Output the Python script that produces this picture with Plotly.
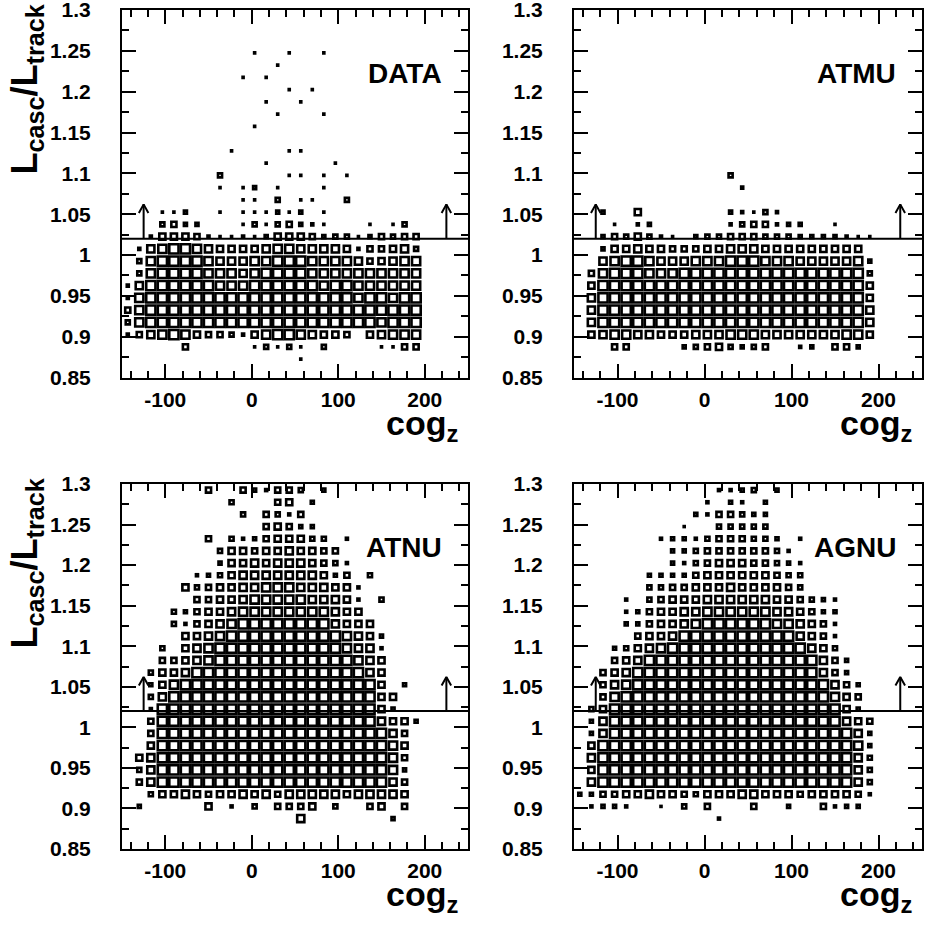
import plotly.graph_objects as go

# ---------------- data ----------------
X_MIN, X_MAX, NX = -150.0, 250.0, 30
Y_MIN, Y_MAX, NY = 0.85, 1.30, 30
CUT_Y = 1.02
ARROW_X = [-125.0, 225.0]
ARROW_TOP = 1.062

PANEL_NAMES = ["DATA", "ATMU", "ATNU", "AGNU"]

# Relative bin content (0-9) per cell, rows from top (y bin 29) to bottom (y bin 0),
# 30 x-bins per row (spaces only group the columns by 5).
DATA_ROWS = [
    "..... ..... ..... ..... ..... .....",
    "..... ..... ..... ..... ..... .....",
    "..... ..... ..... ..... ..... .....",
    "..... ..... .1..1 ..1.. ..... .....",
    "..... ..... ...1. ..... ..... .....",
    "..... ..... 1.1.. ..... ..... .....",
    "..... ..... ....1 .1... ..... .....",
    "..... ..... ..1.. 1.... ..... .....",
    "..... ..... ...1. ..1.. ..... .....",
    "..... ..... .1... ..... ..... .....",
    "..... ..... ..... ..... ..... .....",
    "..... ....1 ....1 1.... ..... .....",
    "..... ..... ..1.. ...1. ..... .....",
    "..... ...4. ....1 1.1.1 ..... .....",
    "..... ...1. 13.1. ..1.. ..... .....",
    "..... ..... 11.4. 11..4 ..... .....",
    "...11 3..1. 11131 3.1.. ..... .....",
    "...45 33... 14145 321.. .1.14 .....",
    "..266 65211 21366 65344 13545 5....",
    ".2789 98766 66788 77776 25567 4....",
    ".4899 99877 78899 98888 75678 8....",
    ".4899 99888 78999 98888 88888 8....",
    "27999 99988 89999 99899 88888 8....",
    "28999 99999 99999 99999 89989 9....",
    "58999 99999 99999 99999 99999 9....",
    "48999 99999 99999 99999 99899 9....",
    "25789 86554 26899 87665 .6788 8....",
    "..... 5.... .1414 1.4.. ..115 5....",
    "..... ..... ..... 1.... ..... .....",
    "..... ..... ..... ..... ..... .....",
]

ATMU_ROWS = [
    "..... ..... ..... ..... ..... .....",
    "..... ..... ..... ..... ..... .....",
    "..... ..... ..... ..... ..... .....",
    "..... ..... ..... ..... ..... .....",
    "..... ..... ..... ..... ..... .....",
    "..... ..... ..... ..... ..... .....",
    "..... ..... ..... ..... ..... .....",
    "..... ..... ..... ..... ..... .....",
    "..... ..... ..... ..... ..... .....",
    "..... ..... ..... ..... ..... .....",
    "..... ..... ..... ..... ..... .....",
    "..... ..... ..... ..... ..... .....",
    "..... ..... ..... ..... ..... .....",
    "..... ..... ...4. ..... ..... .....",
    "..... ..... ....2 ..... ..... .....",
    "..... ..... ..... ..... ..... .....",
    "..3.. 6.... ...32 142.. ..... .....",
    "...1. 23... ...24 55233 ..1.. .....",
    "..354 6421. 34455 54443 33321 1....",
    "..366 76655 56677 76666 66666 .....",
    "..789 98777 88899 98887 77778 3....",
    ".5899 98889 99999 99999 99999 4....",
    ".6999 99999 99999 99999 99999 6....",
    ".7999 99999 99999 99999 99999 6....",
    ".7999 99999 99999 99999 99999 7....",
    ".7999 99999 99999 99999 99999 7....",
    ".6788 77666 77788 87777 77788 6....",
    "...55 ....3 45643 45..2 3.553 .....",
    "..... ..... ..... ..... ..... .....",
    "..... ..... ..... ..... ..... .....",
]

ATNU_ROWS = [
    "..... ..5.. 53255 4.3.. ..... .....",
    "..... ....4 ...56 .3... ..... .....",
    "..... ..... 4.542 5.... ..... .....",
    "..... ..... ..565 33... ..... .....",
    "..... ..5.4 23566 644.2 ..... .....",
    "..... ...46 65667 6655. ..... .....",
    "..... ...36 67677 76542 ..... .....",
    "..... .2346 77777 77635 .4... .....",
    "..... 64566 77888 77766 2.... .....",
    "..... .5566 78888 87776 2.4.. .....",
    "....4 35667 88888 88876 6.... .....",
    "....4 25678 99999 99976 66... .....",
    "..... 66789 99999 99998 763.. .....",
    "...4. 67899 99999 99998 772.. .....",
    "...55 67899 99999 99999 876.. .....",
    "..466 79999 99999 99999 976.. .....",
    "..368 99999 99999 99999 996.3 .....",
    "..479 99999 99999 99999 9966. .....",
    "..299 99999 99999 99999 9963. .....",
    "..599 99999 99999 99999 99766 3....",
    "..599 99999 99999 99999 99975 .....",
    "..699 99999 99999 99999 99986 .....",
    ".6799 99999 99999 99999 99985 .....",
    ".4799 99999 99999 99999 99983 .....",
    ".5799 99999 99999 99999 99975 .....",
    "..466 76566 76757 77776 77776 .....",
    ".3... ..6.2 .4.55 56.4. .56.5 .....",
    "..... ..... ..... 7.... ...3. .....",
    "..... ..... ..... ..... ..... .....",
    "..... ..... ..... ..... ..... .....",
]

AGNU_ROWS = [
    "..... ..... ..223 4.3.. ..... .....",
    "..... ..... .2.32 .3... ..... .....",
    "..... ..... 32554 33... ..... .....",
    "..... ....1 ..444 44... ..... .....",
    "..... ..233 24555 443.2 ..... .....",
    "..... ...33 45555 5542. ..... .....",
    "..... ...32 45666 55432 ..... .....",
    "..... .3333 56666 66544 ..... .....",
    "..... .4455 66676 66654 ..... .....",
    "....2 .4566 67777 77665 432.. .....",
    "....2 35667 78888 88776 533.. .....",
    "....3 35667 89999 99887 652.. .....",
    "..... 56679 99999 99997 652.. .....",
    "...34 67899 99999 99999 764.. .....",
    "...56 79999 99999 99999 9753. .....",
    "..567 99999 99999 99999 9753. .....",
    "..578 99999 99999 99999 99753 .....",
    "..589 99999 99999 99999 99865 .....",
    ".4699 99999 99999 99999 99963 .....",
    ".3799 99999 99999 99999 99976 5....",
    ".3799 99999 99999 99999 99997 3....",
    ".6999 99999 99999 99999 99998 3....",
    ".7999 99999 99999 99999 99997 4....",
    ".6999 99999 99999 99999 99997 4....",
    ".7999 99999 99999 99999 99997 4....",
    "33556 67665 46667 76665 66665 2....",
    ".2332 ..1.4 .5... 5..3. .5233 .....",
    "..... ..... ..2.. ..... ..... .....",
    "..... ..... ..... ..... ..... .....",
    "..... ..... ..... ..... ..... .....",
]

PANEL_ROWS = [DATA_ROWS, ATMU_ROWS, ATNU_ROWS, AGNU_ROWS]
LEVEL_MAX = 9

X_TICKS = [-100, 0, 100, 200]
X_TICK_TEXT = ["-100", "0", "100", "200"]
Y_TICKS = [0.85, 0.90, 0.95, 1.00, 1.05, 1.10, 1.15, 1.20, 1.25, 1.30]
Y_TICK_TEXT = ["0.85", "0.9", "0.95", "1", "1.05", "1.1", "1.15", "1.2", "1.25", "1.3"]

X_TITLE = "cog<sub>z</sub>"
Y_TITLE = "L<sub>casc</sub>/L<sub>track</sub>"

# ---------------- styling / layout ----------------
W = H = 926
FONT = "Liberation Sans, Arial, Helvetica, sans-serif"
BOX_MAX_PX = 9.2
BOX_LW = 2.6

# panel frames in pixels: (left, right, top, bottom)
FRAMES = [(122, 468, 10, 377.5), (574, 922, 10, 377.5),
          (122, 468, 484, 849), (574, 922, 484, 849)]
YTITLE_TOP = [4, 0, 478, 0]


def fx(p):
    return p / W


def fy(p):
    return 1 - p / H


def cells(rows):
    dx = (X_MAX - X_MIN) / NX
    dy = (Y_MAX - Y_MIN) / NY
    xs, ys, lv = [], [], []
    for i, r in enumerate(rows):
        r = r.replace(" ", "")
        j = NY - 1 - i
        for k, c in enumerate(r):
            if c != ".":
                xs.append(X_MIN + (k + 0.5) * dx)
                ys.append(Y_MIN + (j + 0.5) * dy)
                lv.append(int(c))
    return xs, ys, lv


fig = go.Figure()
layout = dict(width=W, height=H, margin=dict(l=0, r=0, t=0, b=0, pad=0),
              autosize=False,
              paper_bgcolor="white", plot_bgcolor="white",
              showlegend=False, hovermode=False,
              font=dict(family=FONT, color="black"))
annotations = []

for p in range(4):
    n = "" if p == 0 else str(p + 1)
    xa, ya = "x" + n, "y" + n
    l, r, t, b = FRAMES[p]
    xs, ys, lv = cells(PANEL_ROWS[p])
    sizes = [v / LEVEL_MAX * BOX_MAX_PX for v in lv]
    fig.add_trace(go.Scatter(
        x=xs, y=ys, mode="markers", xaxis=xa, yaxis=ya,
        marker=dict(symbol="square-open", size=sizes, color="black", opacity=1,
                    line=dict(width=BOX_LW, color="black"))))
    # cut line
    fig.add_trace(go.Scatter(x=[X_MIN, X_MAX], y=[CUT_Y, CUT_Y], mode="lines",
                             xaxis=xa, yaxis=ya, line=dict(color="black", width=2)))
    # arrows
    aw, ah = 5.5, 0.0105
    for ax in ARROW_X:
        fig.add_trace(go.Scatter(
            x=[ax, ax, None, ax - aw, ax, ax + aw],
            y=[CUT_Y, ARROW_TOP, None, ARROW_TOP - ah, ARROW_TOP, ARROW_TOP - ah],
            mode="lines", xaxis=xa, yaxis=ya,
            line=dict(color="black", width=2)))

    common = dict(showgrid=False, zeroline=False, showline=True, linewidth=2,
                  linecolor="black", mirror="ticks", ticks="inside",
                  ticklen=14, tickwidth=1.5, tickcolor="black", automargin=False,
                  ticklabeloverflow="allow",
                  tickfont=dict(family=FONT, size=21, color="black", weight="bold"))
    layout["xaxis" + n] = dict(
        common, domain=[fx(l), fx(r)], range=[X_MIN, X_MAX], anchor=ya,
        tickmode="array", tickvals=X_TICKS, ticktext=X_TICK_TEXT,
        ticklabelstandoff=2,
        minor=dict(ticks="inside", ticklen=7, tickwidth=1.5, tickcolor="black",
                   tickmode="linear", tick0=0, dtick=20))
    layout["yaxis" + n] = dict(
        common, domain=[fy(b), fy(t)], range=[Y_MIN - 1e-7, Y_MAX + 1e-7], anchor=xa,
        tickmode="array", tickvals=Y_TICKS, ticktext=Y_TICK_TEXT,
        ticklabelstandoff=25,
        minor=dict(ticks="inside", ticklen=7, tickwidth=1.5, tickcolor="black",
                   tickmode="linear", tick0=0.85, dtick=0.025))

    annotations.append(dict(text=PANEL_NAMES[p], xref=xa, yref=ya, x=222, y=1.222,
                            xanchor="right", yanchor="middle", showarrow=False,
                            font=dict(family=FONT, size=28, weight="bold")))
    annotations.append(dict(text=X_TITLE, xref="paper", yref="paper",
                            x=fx(r - 8), y=fy(b + 24), xanchor="right", yanchor="top",
                            showarrow=False,
                            font=dict(family=FONT, size=34, weight="bold")))
    if p in (0, 2):
        annotations.append(dict(text=Y_TITLE, xref="paper", yref="paper",
                                x=fx(1), y=fy(YTITLE_TOP[p] - 2), xanchor="left",
                                yanchor="top", textangle=-90, showarrow=False,
                                font=dict(family=FONT, size=36, weight="bold")))

layout["annotations"] = annotations
fig.update_layout(**layout)
fig.write_html("out.html", config={"displayModeBar": False},
               post_script="document.body.style.margin='0px';")
